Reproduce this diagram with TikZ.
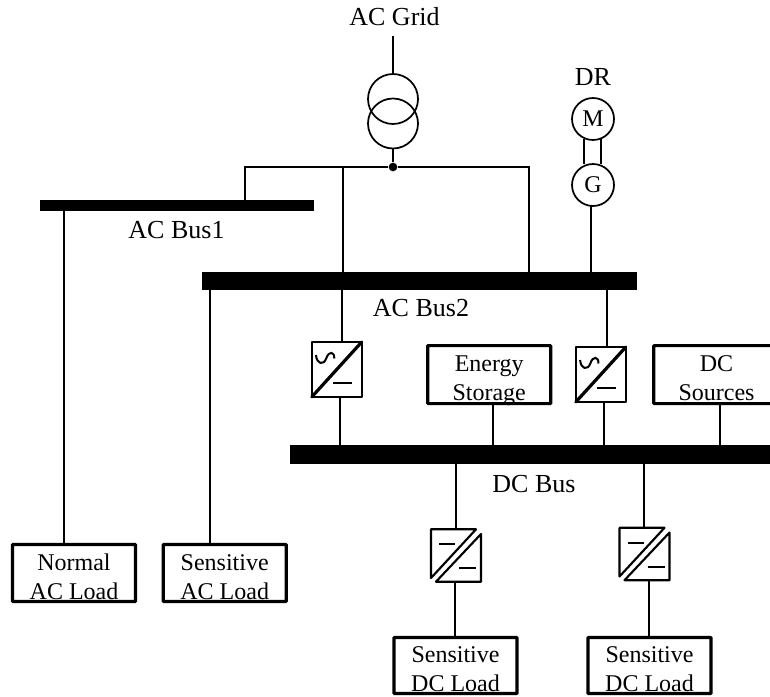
\documentclass[tikz,border=0pt]{standalone}
\usepackage{fontspec}
\setmainfont{Liberation Serif}
\tikzset{every picture/.style={line width=0.75pt}}
\tikzset{
  wire/.style={line width=1.3pt},
  bus/.style={fill=black,inner sep=0pt,outer sep=0pt},
  loadbox/.style={draw,line width=2.4pt,rounded corners=0.5pt,inner sep=0pt,outer sep=0pt,font=\fontsize{18}{21.7}\selectfont,minimum width=92.25pt,minimum height=42.75pt},
  conv/.style={inner sep=0pt,outer sep=0pt,minimum width=37.5pt,minimum height=41.25pt},
  ring/.style={circle,draw,line width=1.3pt,inner sep=0pt,outer sep=0pt,minimum size=#1,font=\fontsize{18}{21}\selectfont},
  txt/.style={anchor=base,inner sep=0pt,font=\fontsize{19.5}{23}\selectfont},
}
\newcommand{\twolines}[2]{\raisebox{-19.5pt}[0pt][0pt]{\begin{tabular}[b]{@{}c@{}}#1\\#2\end{tabular}}}
\newcommand{\acdc}[1]{%
  \draw[line width=1.5pt,line join=round] (#1.north west) rectangle (#1.south east);
  \draw[line width=2.4pt,line cap=round] (#1.south west) -- (#1.north east);
  \begin{scope}[shift={(#1.center)}]
    \draw[line width=1.5pt] (-20.7,-14.5) .. controls (-20,-5) and (-13,-4) .. (-10.5,-11) .. controls (-8,-19) and (-2,-18) .. (-2.4,-11);
    \draw[line width=1.5pt] (-3.4,13.2) -- (15,13.2);
  \end{scope}}
\newcommand{\dcdc}[1]{%
  \begin{scope}[shift={(#1.center)},line join=round]
    \draw[line width=1.6pt] (-25,-26.2) -- (20,-26.2) -- (-25,22.5) -- cycle;
    \draw[line width=1.6pt] (25,-21.5) -- (25,26.2) -- (-20,26.2) -- cycle;
    \draw[line width=1.5pt] (-17,-11.5) -- (-1,-11.5);
    \draw[line width=1.5pt] (3,12.5) -- (20,12.5);
  \end{scope}}

\begin{document}
\begin{tikzpicture}[x=0.75pt,y=0.75pt,yscale=-1,xscale=1]
\useasboundingbox (0,0) rectangle (770,696);

%Buses
\node[bus,minimum width=205.5pt,minimum height=8pt] (acbusA) at (177,205.5) {};
\node[bus,minimum width=326.25pt,minimum height=13.5pt] (acbusB) at (419.5,281) {};
\node[bus,minimum width=360pt,minimum height=14.25pt] (dcbus) at (530,454.5) {};

%Transformer
\node[ring=37.5pt] (xfmrA) at (393,99) {};
\node[ring=37.5pt] (xfmrB) at (393,123.5) {};
\node[circle,fill=black,inner sep=0pt,minimum size=6.5pt] (junction) at (393,167) {};
\coordinate (gridend) at (393,36);
\coordinate (feedA) at (245,167);
\coordinate (feedB) at (342.9,167);
\coordinate (feedC) at (528.9,167);

%Machines
\node[ring=31.5pt] (motor) at (593,119) {M};
\node[ring=31.5pt] (gen) at (593,185) {G};
\coordinate (genout) at (590.7,205);
\coordinate (shaftA) at (583.7,139);
\coordinate (shaftB) at (601,139);

%Load boxes
\node[loadbox] (normal) at (74,573) {\twolines{Normal}{AC Load}};
\node[loadbox] (sensac) at (224.7,573) {\twolines{Sensitive}{AC Load}};
\node[loadbox,minimum height=43.5pt] (storage) at (489.2,374.6) {\twolines{Energy}{Storage}};
\node[loadbox,minimum width=94pt,minimum height=43.5pt] (sources) at (716.5,374.6) {\twolines{DC}{Sources}};
\node[loadbox,minimum height=42pt] (sensdcA) at (455.5,665.5) {\twolines{Sensitive}{DC Load}};
\node[loadbox,minimum height=42pt] (sensdcB) at (649.5,665.5) {\twolines{Sensitive}{DC Load}};

%Converters
\node[conv] (convA) at (336.7,369.5) {};
\node[conv] (convB) at (600.8,374.5) {};
\node[conv] (convC) at (456,555.5) {};
\node[conv] (convD) at (644.5,554) {};
\acdc{convA}
\acdc{convB}
\dcdc{convC}
\dcdc{convD}

%Straight Lines
\draw[wire] (gridend) -- (xfmrA.north);
\draw[wire] (xfmrB.south) -- (junction);
\draw[wire] (feedA |- acbusA.north) -- (feedA) -- (junction) -- (feedC) -- (feedC |- acbusB.north);
\draw[wire] (feedB) -- (feedB |- acbusB.north);
\draw[wire] (shaftA) -- (shaftA |- gen.north);
\draw[wire] (shaftB) -- (shaftB |- gen.north);
\draw[wire] (genout) -- (genout |- acbusB.north);
\draw[wire] (64,210.7) coordinate (tapN) -- (tapN |- normal.north);
\draw[wire] (210,290) coordinate (tapS) -- (tapS |- sensac.north);
\draw[wire] (342.3,290) coordinate (tapA) -- (tapA |- convA.north);
\draw[wire] (340.3,397) coordinate (tapB) -- (tapB |- dcbus.north);
\draw[wire] (606.7,290) coordinate (tapC) -- (tapC |- convB.north);
\draw[wire] (604,402) coordinate (tapD) -- (tapD |- dcbus.north);
\draw[wire] (493,404) coordinate (tapE) -- (tapE |- dcbus.north);
\draw[wire] (720,404) coordinate (tapF) -- (tapF |- dcbus.north);
\draw[wire] (455.7,464) coordinate (tapG) -- (tapG |- convC.north);
\draw[wire] (644,464) coordinate (tapH) -- (tapH |- convD.north);
\draw[wire] (455,581.7) coordinate (tapI) -- (tapI |- sensdcA.north);
\draw[wire] (649,580) coordinate (tapJ) -- (tapJ |- sensdcB.north);

% Text Node
\node[txt] (gridlabel) at (394.5,25) {AC Grid};
% Text Node
\node[txt] (drlabel) at (593,85) {DR};
% Text Node
\node[txt] (busAlabel) at (176.5,238) {AC Bus1};
% Text Node
\node[txt] (busBlabel) at (421,316.7) {AC Bus2};
% Text Node
\node[txt] (dclabel) at (534,492.7) {DC Bus};
\end{tikzpicture}
\end{document}
